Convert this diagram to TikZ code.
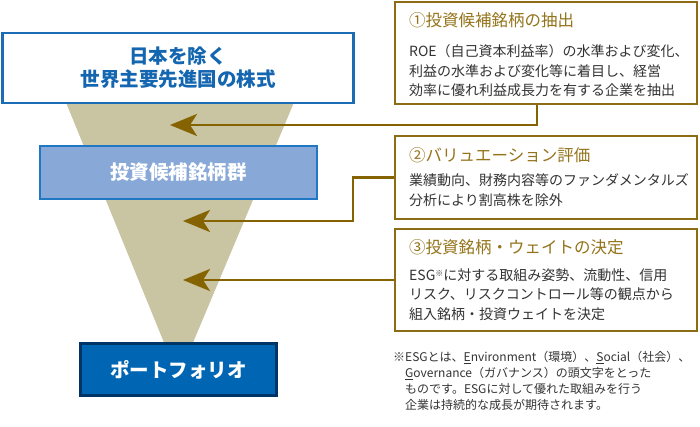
\documentclass[tikz,border=0pt]{standalone}
\usepackage{fontspec}
\setmainfont{Noto Sans CJK JP}
\usepackage{xcolor}
\usetikzlibrary{arrows.meta}

\definecolor{edgeblue}{HTML}{1B6CB4}
\definecolor{textblue}{HTML}{1466B0}
\definecolor{paleblue}{HTML}{88A9D7}
\definecolor{midblue}{HTML}{2077C3}
\definecolor{deepblue}{HTML}{0066B3}
\definecolor{navy}{HTML}{003466}
\definecolor{funneltan}{HTML}{C9C4A1}
\definecolor{gold}{HTML}{8C6C14}
\definecolor{goldarrow}{HTML}{856300}
\definecolor{goldtitle}{HTML}{94741A}
\definecolor{bodygray}{HTML}{333333}

\tikzset{
  stagebox/.style={rectangle, inner sep=0pt, font=\fontsize{19.5}{23}\selectfont\bfseries, align=center},
  infobox/.style={rectangle, draw=gold, line width=1.6pt, fill=white, minimum width=302pt, inner sep=0pt},
  infotitle/.style={anchor=west, inner sep=0pt, text=goldtitle, font=\fontsize{16.5}{20}\selectfont},
  infobody/.style={anchor=north west, inner sep=0pt, text=bodygray, align=left, font=\fontsize{14}{19.5}\selectfont},
  link/.style={draw=goldarrow, line width=2.8pt, -{Stealth[length=27pt,width=22pt,inset=7pt]}},
}

\begin{document}
\begin{tikzpicture}[x=1pt,y=-1pt]
  \useasboundingbox (0,0) rectangle (700,427);

  % Funnel behind the stages
  \fill[funneltan] (65,100) -- (295,100) -- (192,345) -- (165,345) -- cycle;

  % Stages on the left
  \node[stagebox, draw=edgeblue, line width=2.8pt, fill=white, text=textblue,
        minimum width=351pt, minimum height=70pt] (universe) at (178,68)
        {日本を除く\\世界主要先進国の株式};
  \node[stagebox, draw=midblue, line width=2pt, fill=paleblue, text=white,
        minimum width=277pt, minimum height=53pt] (candidates) at (178.5,172.5) {投資候補銘柄群};
  \node[stagebox, draw=navy, line width=2.8pt, fill=deepblue, text=white,
        minimum width=196pt, minimum height=52pt] (portfolio) at (178.5,369.5) {ポートフォリオ};

  % Steps on the right
  \node[infobox, minimum height=102pt] (step1) at (545.75,53) {};
  \node[infotitle] (title1) at (409,20) {①投資候補銘柄の抽出};
  \node[infobody] (body1) at (409,44.5)
    {ROE（自己資本利益率）の水準および変化、\\利益の水準および変化等に着目し、経営\\効率に優れ利益成長力を有する企業を抽出};

  \node[infobox, minimum height=83pt] (step2) at (545.75,177.5) {};
  \node[infotitle] (title2) at (409,155) {②バリュエーション評価};
  \node[infobody] (body2) at (409,173.5)
    {業績動向、財務内容等のファンダメンタルズ\\分析により割高株を除外};

  \node[infobox, minimum height=102pt] (step3) at (545.75,280) {};
  \node[infotitle] (title3) at (409,247) {③投資銘柄・ウェイトの決定};
  \node[infobody] (body3) at (409,268.5)
    {ESG\raisebox{.3em}{\fontsize{8}{8}\selectfont ※}に対する取組み姿勢、流動性、信用\\リスク、リスクコントロール等の観点から\\組入銘柄・投資ウェイトを決定};

  % Footnote
  \node[anchor=north west, inner sep=0pt, text=bodygray, align=left,
        font=\fontsize{12}{16}\selectfont] (note) at (393,351)
    {※ESGとは、\underline{E}nvironment（環境）、\underline{S}ocial（社会）、\\
     \hspace*{1em}\underline{G}overnance（ガバナンス）の頭文字をとった\\
     \hspace*{1em}ものです。ESGに対して優れた取組みを行う\\
     \hspace*{1em}企業は持続的な成長が期待されます。};

  % Arrows into the funnel
  \coordinate (tip1) at (170,125);
  \coordinate (tip2) at (183,221);
  \coordinate (tip3) at (183,280);
  \coordinate (bend1) at (537,125);
  \coordinate (bend2) at (353,221);
  \draw[link] (bend1 |- step1.south) -- (bend1) -- (tip1);
  \draw[link] (step2.west) -| (bend2) -- (tip2);
  \draw[link] (step3.west) -- (tip3);
\end{tikzpicture}
\end{document}
